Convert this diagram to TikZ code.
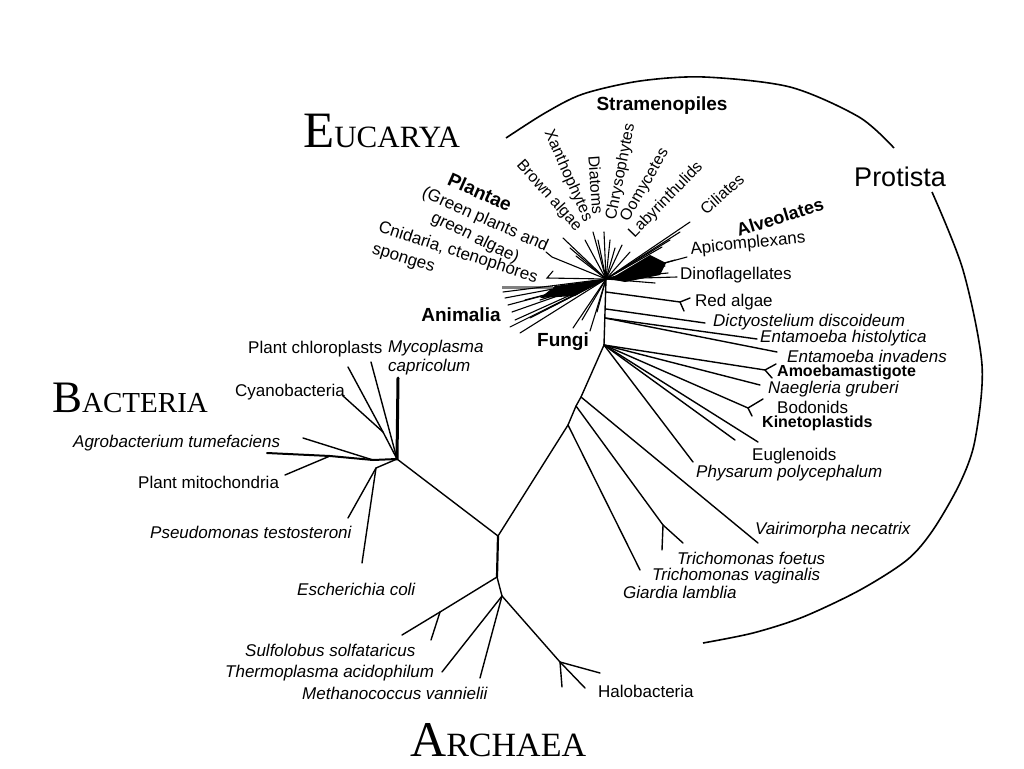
\documentclass[tikz,border=0pt]{standalone}
\usepackage{fontspec}
\setmainfont{Liberation Sans}
\newfontfamily\serifT{Liberation Serif}
\begin{document}
\begin{tikzpicture}[x=1pt,y=-1pt,
  br/.style={line width=1.4pt,line cap=round,line join=round},
  fan/.style={line width=1.1pt,line cap=round},
  lab/.style={inner sep=0pt,anchor=west,font=\fontsize{17}{19}\selectfont},
  ilab/.style={inner sep=0pt,anchor=west,font=\itshape\fontsize{17}{19}\selectfont},
  blab/.style={inner sep=0pt,font=\bfseries\fontsize{19}{21}\selectfont},
  rlab/.style={inner sep=0pt,font=\fontsize{16}{18}\selectfont},
  title/.style={inner sep=0pt,anchor=base west,text depth=0pt,font=\serifT},
  hull/.style={line width=1.6pt}]
\useasboundingbox (0,0) rectangle (1024,768);

% ---------- titles ----------
\node[title] (teu) at (303,147) {\fontsize{51}{51}\selectfont E\fontsize{31}{31}\selectfont UCARYA};
\node[title] (tba) at (52,412) {\fontsize{45}{45}\selectfont B\fontsize{29}{29}\selectfont ACTERIA};
\node[title] (tar) at (410,756) {\fontsize{50}{50}\selectfont A\fontsize{34}{34}\selectfont RCHAEA};
\node[inner sep=0pt,font=\fontsize{27}{30}\selectfont] (tpr) at (900,177) {Protista};

% ---------- Protista boundary ----------
\draw[hull] plot[smooth] coordinates {(506,138) (545,113) (583,94) (640,81) (704,77) (790,87) (859,117) (894,148)};
\draw[hull] plot[smooth] coordinates {(932,192) (963,270) (982,365) (975,440) (960,483) (933,530) (907,560) (860,590) (803,617) (753,633) (703,643)};

% ---------- main nodes ----------
\coordinate (R) at (498,536);
\coordinate (A1) at (497,577);
\coordinate (A2) at (502,596);
\coordinate (B) at (397,459);
\coordinate (E1) at (568,425);
\coordinate (E2) at (576,406);
\coordinate (E3) at (581,397);
\coordinate (F) at (604,345);
\coordinate (C) at (606,279);

\draw[br,line width=2.2pt] (A1) -- (R);
\draw[br] (A2) -- (A1);
\draw[br] (R) -- (B);
\draw[br] (R) -- (E1) -- (E2) -- (E3) -- (F) -- (C);

% ---------- Archaea ----------
\coordinate (sf) at (440,612);
\coordinate (tSul) at (402,635);
\coordinate (tSul2) at (431,640);
\coordinate (tThe) at (442,672);
\coordinate (tMet) at (480,678);
\coordinate (hN) at (560,662);
\coordinate (tH1) at (562,687);
\coordinate (tH2) at (585,688);
\coordinate (tH3) at (600,673);
\draw[br] (A1) -- (sf) -- (tSul);
\draw[br] (sf) -- (tSul2);
\draw[br] (A2) -- (tThe);
\draw[br] (A2) -- (tMet);
\draw[br] (A2) -- (hN) -- (tH1);
\draw[br] (hN) -- (tH2);
\draw[br] (hN) -- (tH3);

\node[ilab] (lSul) at (245,650) {Sulfolobus solfataricus};
\node[ilab] (lThe) at (225,673) {Thermoplasma acidophilum};
\node[ilab] (lMet) at (302,693) {Methanococcus vannielii};
\node[lab] (lHal) at (598,691) {Halobacteria};

% ---------- Bacteria ----------
\coordinate (Bc) at (383,432);
\coordinate (Bh) at (373,460);
\coordinate (Bp) at (330,456);
\coordinate (Bd) at (376,468);
\coordinate (tMyc) at (398,378);
\coordinate (tPc1) at (348,367);
\coordinate (tPc2) at (371,362);
\coordinate (tCy) at (342,395);
\coordinate (tAg) at (303,438);
\coordinate (tPmH) at (267,453);
\coordinate (tPm) at (285,475);
\coordinate (tPs) at (348,518);
\coordinate (tEc) at (362,563);
\draw[br,line width=3pt] (B) -- (tMyc);
\draw[br] (B) -- (Bc) -- (tPc1);
\draw[br] (Bc) -- (tCy);
\draw[br] (B) -- (tPc2);
\draw[br,line width=2pt] (B) -- (Bh) -- (Bp) -- (tPmH);
\draw[br] (Bh) -- (tAg);
\draw[br] (Bp) -- (tPm);
\draw[br] (B) -- (Bd) -- (tPs);
\draw[br] (Bd) -- (tEc);

\node[lab] (lPc) at (248,349) {Plant chloroplasts};
\node[ilab] (lMy) at (388,348) {Mycoplasma};
\node[ilab] (lMy2) at (388,367) {capricolum};
\node[lab] (lCy) at (235,392) {Cyanobacteria};
\node[ilab] (lAg) at (73,443) {Agrobacterium tumefaciens};
\node[lab] (lPm) at (138,482) {Plant mitochondria};
\node[ilab] (lPs) at (150,532) {Pseudomonas testosteroni};
\node[ilab] (lEc) at (297,589) {Escherichia coli};

% ---------- Eucarya: protist branches ----------
\coordinate (sRed) at (606,292);
\coordinate (sDic) at (606,309);
\coordinate (sEnt) at (605,318);
\coordinate (tRed) at (680,302);
\coordinate (tRa) at (690,298);
\coordinate (tRb) at (684,311);
\coordinate (tDic) at (705,323);
\coordinate (tEh) at (757,339);
\coordinate (tEi) at (777,352);
\coordinate (tAm) at (765,370);
\coordinate (tAma) at (776,364);
\coordinate (tAmb) at (772,378);
\coordinate (tNa) at (760,385);
\coordinate (tBo) at (748,408);
\coordinate (tBoa) at (763,399);
\coordinate (tBob) at (752,416);
\coordinate (tEu1) at (735,440);
\coordinate (tEu2) at (758,442);
\coordinate (tPh) at (693,462);
\coordinate (tVa) at (758,543);
\coordinate (tTr) at (663,525);
\coordinate (tTra) at (662,550);
\coordinate (tTrb) at (683,543);
\coordinate (tGi) at (640,570);

\draw[br] (sRed) -- (tRed) -- (tRa);
\draw[br] (tRed) -- (tRb);
\draw[br] (sDic) -- (tDic);
\draw[br] (sEnt) -- (tEh);
\draw[br] (sEnt) -- (tEi);
\draw[br] (F) -- (tAm) -- (tAma);
\draw[br] (tAm) -- (tAmb);
\draw[br] (F) -- (tNa);
\draw[br] (F) -- (tBo) -- (tBoa);
\draw[br] (tBo) -- (tBob);
\draw[br] (F) -- (tEu1);
\draw[br] (F) -- (tEu2);
\draw[br] (F) -- (tPh);
\draw[br] (E3) -- (tVa);
\draw[br] (E2) -- (tTr) -- (tTra);
\draw[br] (tTr) -- (tTrb);
\draw[br] (E1) -- (tGi);

\node[lab] (lDin) at (680,275) {Dinoflagellates};
\node[lab] (lRed) at (695,302) {Red algae};
\node[ilab] (lDic) at (713,322) {Dictyostelium discoideum};
\node[ilab] (lEh) at (760,338) {Entamoeba histolytica};
\node[ilab] (lEi) at (787,356) {Entamoeba invadens};
\node[lab,font=\bfseries\fontsize{16}{18}\selectfont] (lAm) at (777,372) {Amoebamastigote};
\node[ilab] (lNa) at (768,389) {Naegleria gruberi};
\node[lab] (lBo) at (777,407) {Bodonids};
\node[lab,font=\bfseries\fontsize{16}{18}\selectfont] (lKi) at (762,423) {Kinetoplastids};
\node[lab] (lEu) at (752,456) {Euglenoids};
\node[ilab] (lPh) at (696,473) {Physarum polycephalum};
\node[ilab] (lVa) at (755,530) {Vairimorpha necatrix};
\node[ilab] (lTf) at (677,558) {Trichomonas foetus};
\node[ilab] (lTv) at (652,576) {Trichomonas vaginalis};
\node[ilab] (lGi) at (623,592) {Giardia lamblia};

% ---------- Eucarya crown ----------
% Alveolates wedge
\fill (610,279) -- (650,255) -- (666,263) -- (660,275) -- (625,282) -- cycle;
\foreach \p in {(690,222),(680,232),(670,240),(662,247),(687,257),(675,260),(665,266),(677,277),(668,273),(655,283)}
  \draw[fan] (C) -- \p;
% Stramenopiles
\foreach \p in {(563,238),(570,248),(576,256),(585,240),(593,232),(598,240),(604,232),(610,240),(615,248),(622,245),(630,252)}
  \draw[fan] (C) -- \p;
% Plantae, Cnidaria
\draw[fan] (C) -- (552,257) -- (546,252);
\draw[fan] (C) -- (547,278) -- (553,271);
% Animalia
\fill (606,279) -- (555,286) -- (540,298) -- (575,296) -- cycle;
\draw[line width=3pt,gray] (502,287) -- (553,287);
\foreach \p in {(503,292),(505,298),(508,305),(512,312),(515,320),(510,327),(520,333),(530,318),(540,300),(525,300),(545,310)}
  \draw[fan] (C) -- \p;
% Fungi
\foreach \p in {(573,328),(582,320),(590,331),(597,312)}
  \draw[fan] (C) -- \p;

% crown labels
\node[blab] (lStr) at (662,106) {Stramenopiles};
\node[rlab,rotate=-48] (lBr) at (549,196) {Brown algae};
\node[rlab,rotate=-66] (lXa) at (568,176) {Xanthophytes};
\node[rlab,rotate=-86] (lDi) at (596,185) {Diatoms};
\node[rlab,rotate=79] (lCh) at (621,172) {Chrysophytes};
\node[rlab,rotate=60] (lOo) at (645,185) {Oomycetes};
\node[rlab,rotate=46] (lLa) at (666,200) {Labyrinthulids};
\node[rlab,rotate=42] (lCi) at (722,194) {Ciliates};
\node[blab,font=\bfseries\fontsize{18}{20}\selectfont,rotate=17] (lAl) at (780,217) {Alveolates};
\node[rlab,font=\fontsize{17}{19}\selectfont,rotate=6] (lAp) at (748,244) {Apicomplexans};
\node[blab,rotate=-24] (lPl) at (480,192) {Plantae};
\node[rlab,font=\fontsize{17}{19}\selectfont,rotate=-24] (lPl2) at (485,220) {(Green plants and};
\node[rlab,font=\fontsize{17}{19}\selectfont,rotate=-26] (lPl3) at (475,238) {green algae)};
\node[rlab,font=\fontsize{17}{19}\selectfont,rotate=-18] (lCn) at (458,253) {Cnidaria, ctenophores};
\node[rlab,font=\fontsize{17}{19}\selectfont,rotate=-17] (lSp) at (403,260) {sponges};
\node[blab] (lAn) at (461,315) {Animalia};
\node[blab] (lFu) at (563,342) {Fungi};
\end{tikzpicture}
\end{document}
